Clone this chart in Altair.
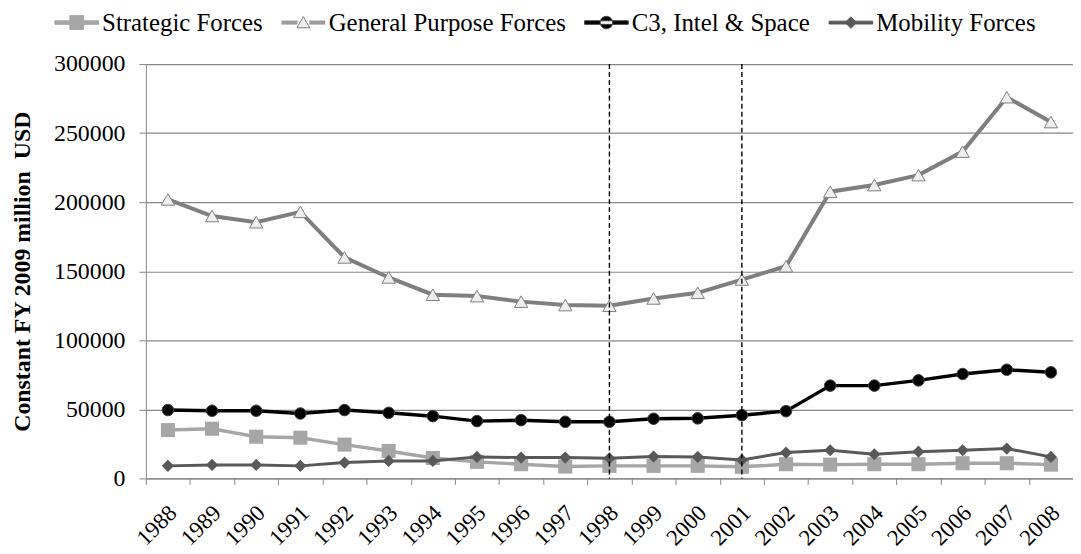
import altair as alt
import pandas as pd

years = list(range(1988, 2009))
series_names = ["Strategic Forces", "General Purpose Forces", "C3, Intel & Space", "Mobility Forces"]
strategic = [35000, 36000, 30200, 29500, 24500, 19900, 14800, 12000, 10300, 8600, 9100,
             9100, 9100, 8400, 10300, 10000, 10300, 10300, 11000, 11000, 10000]
general = [202000, 190000, 185500, 193000, 160000, 145500, 133000, 132000, 128000, 125500, 125000,
           130300, 134400, 144000, 153600, 207600, 212400, 219600, 236600, 276000, 258000]
c3 = [49500, 49000, 49000, 47000, 49500, 47500, 45100, 41500, 42200, 41000, 41000,
      43200, 43500, 45800, 48700, 67200, 67200, 71000, 75600, 78700, 76800]
mobility = [9100, 9800, 9800, 9100, 11500, 12700, 12700, 15600, 15100, 15100, 14600,
            15800, 15600, 13400, 18700, 20400, 17500, 19400, 20400, 21600, 15600]
marker_years = [1998, 2001]
y_ticks = [0, 50000, 100000, 150000, 200000, 250000, 300000]

values = [strategic, general, c3, mobility]
rows = []
for name, vals in zip(series_names, values):
    for yr, v in zip(years, vals):
        rows.append({"year": yr, "series": name, "value": v})
df = pd.DataFrame(rows)
df_rules = pd.DataFrame({"year": marker_years})
df_leg = pd.DataFrame({"series": series_names})

FONT = "Liberation Serif"
GRID = "#868686"

line_colors = ["#A6A6A6", "#7F7F7F", "#000000", "#595959"]
line_widths = [3.5, 4, 3.5, 3]
m_shapes = ["square", "triangle-up", "circle", "diamond"]
m_sizes = [200, 180, 135, 150]
m_fill = ["#A6A6A6", "#EEEEEE", "#000000", "#595959"]
m_stroke = ["#A6A6A6", "#7F7F7F", "#404040", "#595959"]
m_sw = [0, 1, 1, 0]

# legend symbol paths: line + marker (unit = 12px)
gp_lines = "".join(
    f"M-1.83,{d}H-0.5M0.5,{d}H1.83" for d in ["-0.12", "-0.04", "0.04", "0.12"]
)
leg_paths = [
    "M-1.83,-0.15H1.83V0.15H-1.83Z M-0.58,-0.58H0.58V0.58H-0.58Z",
    gp_lines + "M0,-0.5L0.54,0.44H-0.54Z",
    "M-1.83,-0.15H1.83V0.15H-1.83Z M-0.52,0A0.52,0.52 0 1,0 0.52,0A0.52,0.52 0 1,0 -0.52,0Z",
    "M-1.83,-0.12H1.83V0.12H-1.83Z M-0.48,0L0,-0.48L0.48,0L0,0.48Z",
]

X = alt.X(
    "year:O",
    bandPosition=0.5,
    scale=alt.Scale(type="band", paddingInner=0, paddingOuter=0),
    axis=alt.Axis(
        title=None, labelAngle=-45, labelAlign="right", labelBaseline="top",
        labelFont=FONT, labelFontSize=23, labelColor="black", labelPadding=17,
        labelOffset=-3,
        tickBand="extent", tickColor=GRID, tickSize=6, domainColor=GRID,
        grid=False, labelOverlap=False,
    ),
)
Y = alt.Y(
    "value:Q",
    scale=alt.Scale(domain=[0, 300000], nice=False),
    axis=alt.Axis(
        title="Constant FY 2009 million\u00a0 USD", values=y_ticks, format="d",
        labelFont=FONT, labelFontSize=24, labelColor="black", labelPadding=14,
        titleFont=FONT, titleFontSize=24, titleFontWeight="bold", titleColor="black",
        titlePadding=19, grid=True, gridColor=GRID, gridWidth=1.2,
        tickColor=GRID, tickSize=7, domainColor=GRID,
    ),
)

layers = []
for i, name in enumerate(series_names):
    base = alt.Chart(df).transform_filter(alt.datum.series == name)
    layers.append(base.mark_line(color=line_colors[i], strokeWidth=line_widths[i]).encode(x=X, y=Y))
    layers.append(
        base.mark_point(shape=m_shapes[i], size=m_sizes[i], filled=True, fill=m_fill[i],
                        stroke=m_stroke[i], strokeWidth=m_sw[i], opacity=1).encode(x=X, y=Y)
    )

rules = alt.Chart(df_rules).mark_rule(color="black", strokeDash=[5, 3], strokeWidth=1.4).encode(x=X)
layers.append(rules)

leg = alt.Legend(orient="none", legendX=-82, legendY=-54.5, direction="horizontal", title=None,
                 labelFont=FONT, labelFontSize=25, labelColor="black", labelLimit=500,
                 symbolSize=576, labelOffset=13, columnPadding=16, padding=0,
                 symbolStrokeWidth=1)

leg_layer = alt.Chart(df_leg).transform_filter("false").mark_point(filled=True, opacity=1).encode(
    shape=alt.Shape("series:N", scale=alt.Scale(domain=series_names, range=leg_paths), legend=leg),
    fill=alt.Fill("series:N", scale=alt.Scale(domain=series_names, range=m_fill), legend=leg),
    stroke=alt.Stroke("series:N", scale=alt.Scale(domain=series_names, range=m_stroke), legend=leg),
)
layers.append(leg_layer)

chart = (
    alt.layer(*layers)
    .properties(width=933, height=417,
                autosize=alt.AutoSizeParams(type="none"),
                padding={"left": 138.7, "top": 54.7, "right": 0, "bottom": 70},
                background="white")
    .configure_view(stroke=None)
)

chart.save("out.html", embed_options={"renderer": "svg", "actions": False})
